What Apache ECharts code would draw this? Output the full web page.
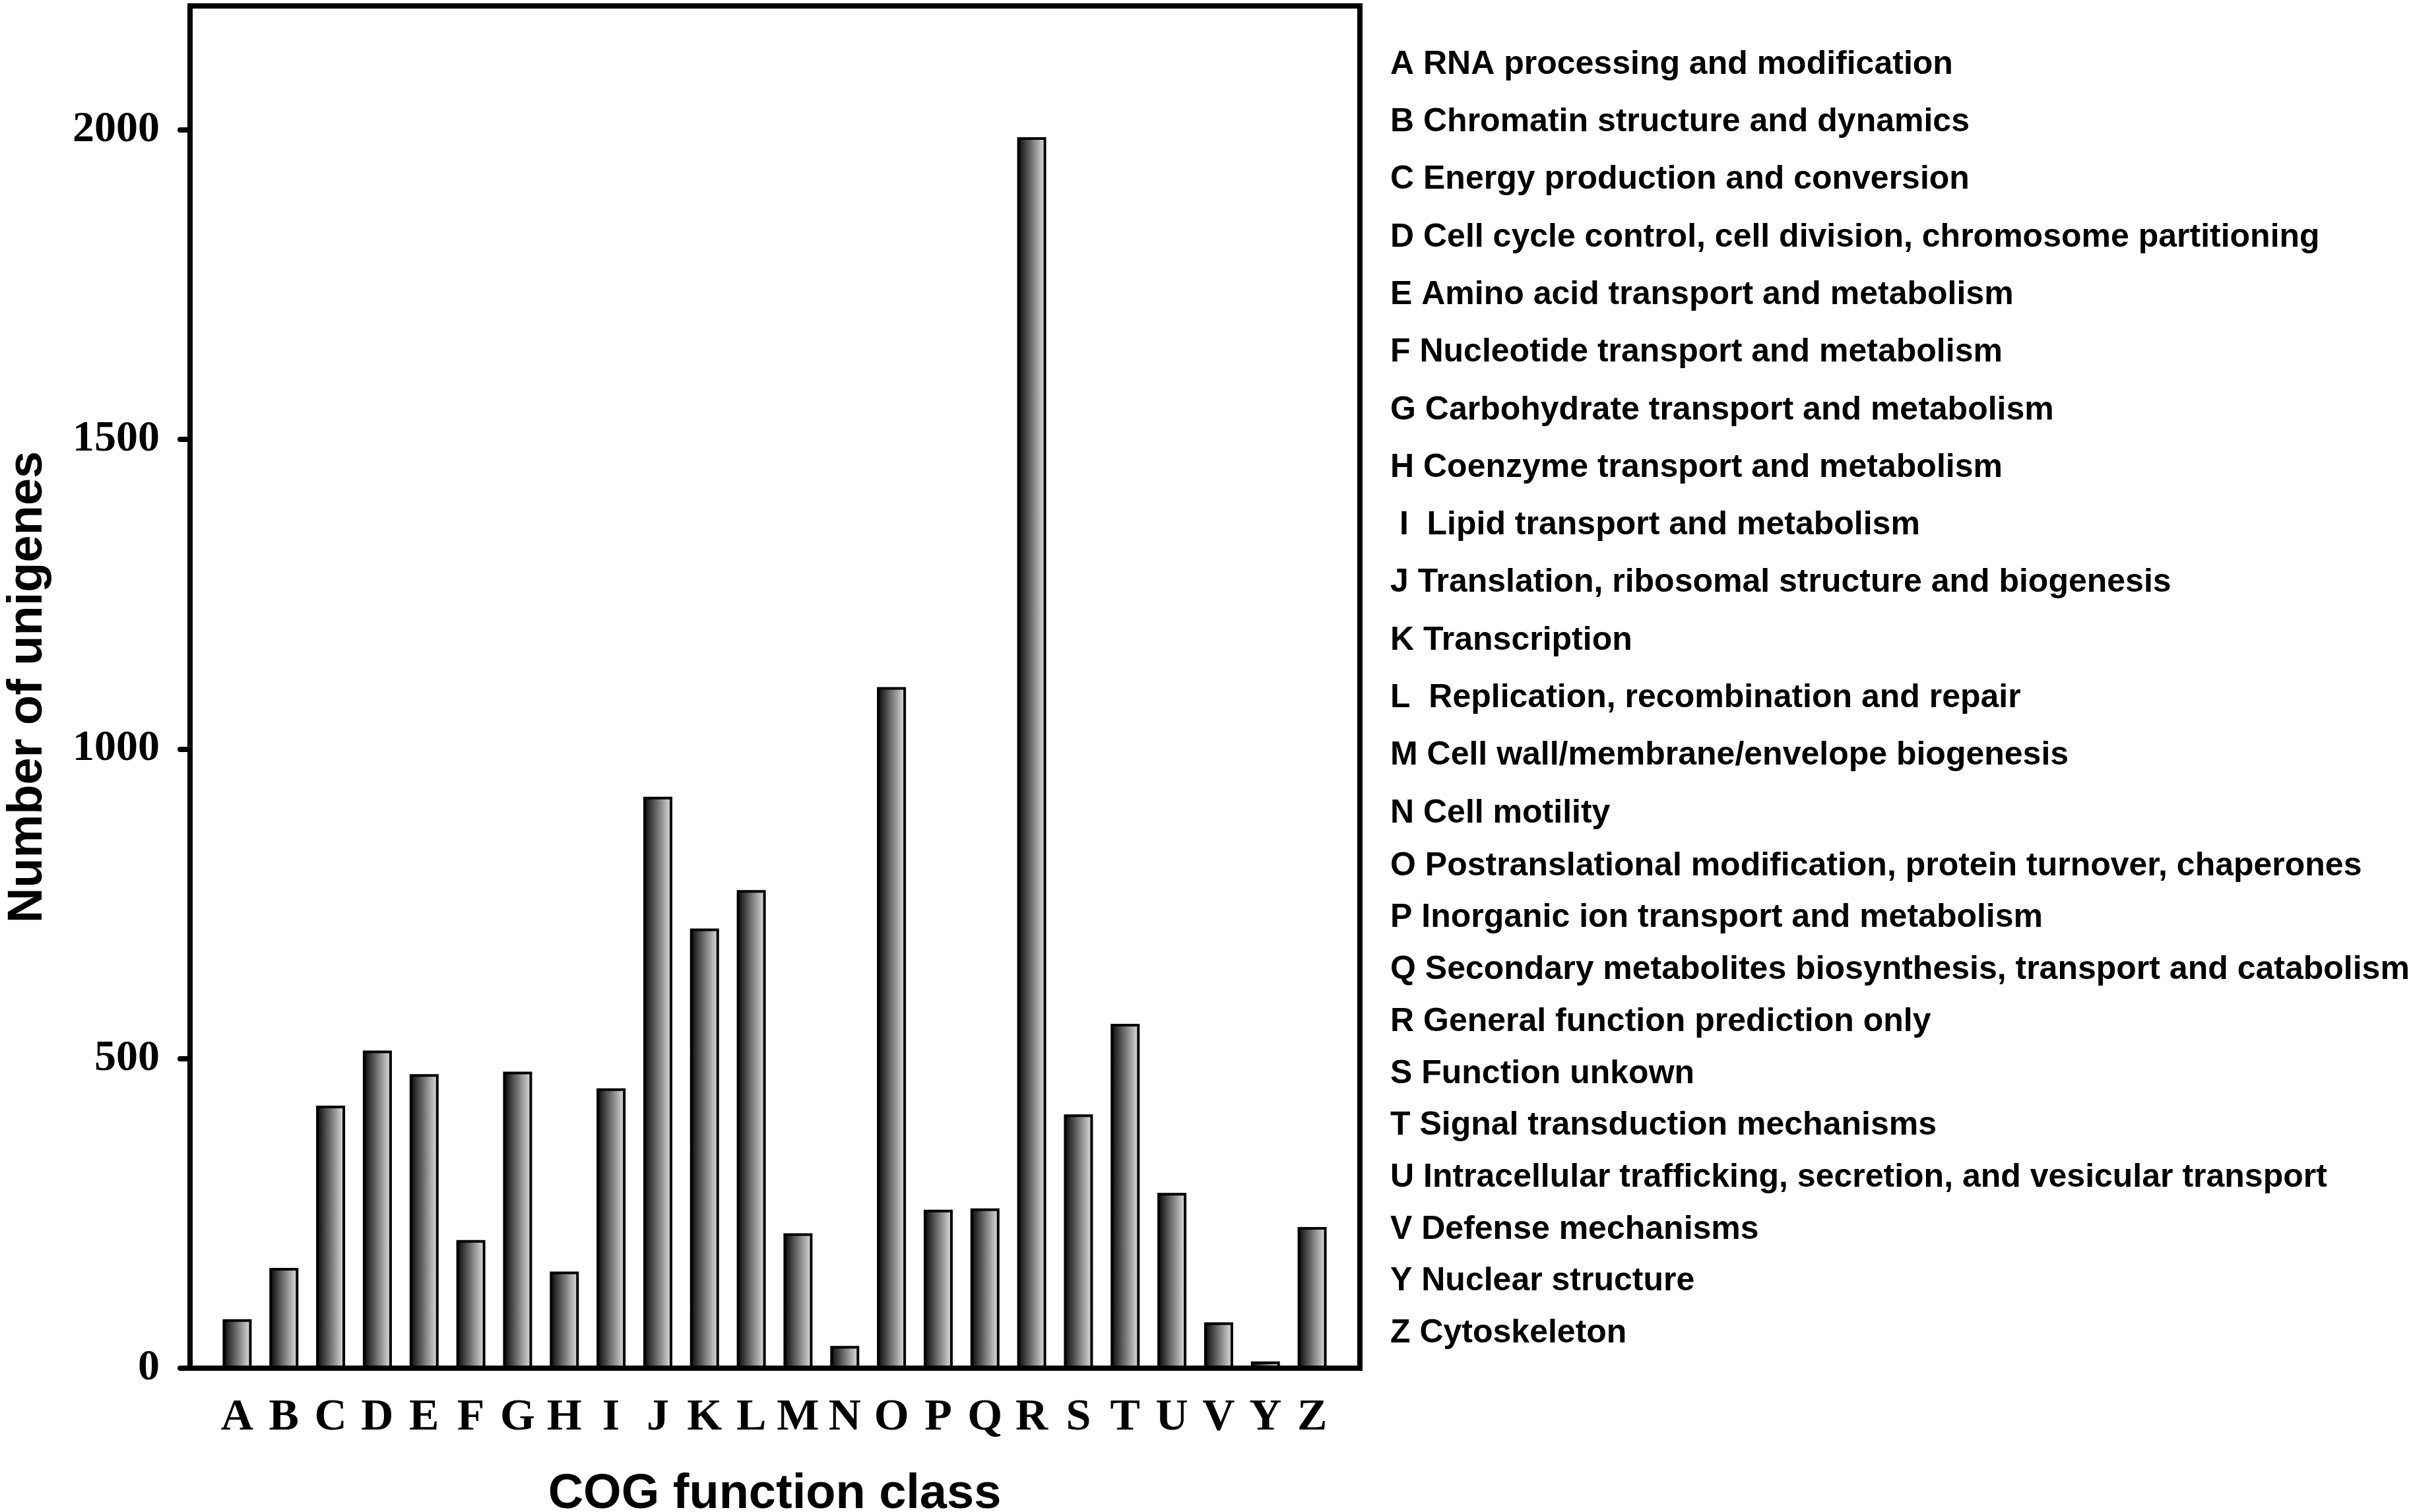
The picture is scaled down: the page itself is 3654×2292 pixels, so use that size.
<!DOCTYPE html>
<html>
<head>
<meta charset="utf-8">
<script src="https://cdn.jsdelivr.net/npm/echarts@6/dist/echarts.min.js"></script>
<style>
html,body{margin:0;padding:0;background:#fff;}
#chart{width:3654px;height:2292px;}
</style>
</head>
<body>
<div id="chart"></div>
<script>
const categories = ['A','B','C','D','E','F','G','H','I','J','K','L','M','N','O','P','Q','R','S','T','U','V','Y','Z'];
const counts = [79,162,424,513,475,207,479,156,452,923,710,772,218,36,1100,256,258,1988,410,556,283,74,11,228];
const yTicks = [0,500,1000,1500,2000];
const descriptions = [
  'A RNA processing and modification',
  'B Chromatin structure and dynamics',
  'C Energy production and conversion',
  'D Cell cycle control, cell division, chromosome partitioning',
  'E Amino acid transport and metabolism',
  'F Nucleotide transport and metabolism',
  'G Carbohydrate transport and metabolism',
  'H Coenzyme transport and metabolism',
  ' I  Lipid transport and metabolism',
  'J Translation, ribosomal structure and biogenesis',
  'K Transcription',
  'L  Replication, recombination and repair',
  'M Cell wall/membrane/envelope biogenesis',
  'N Cell motility',
  'O Postranslational modification, protein turnover, chaperones',
  'P Inorganic ion transport and metabolism',
  'Q Secondary metabolites biosynthesis, transport and catabolism',
  'R General function prediction only',
  'S Function unkown',
  'T Signal transduction mechanisms',
  'U Intracellular trafficking, secretion, and vesicular transport',
  'V Defense mechanisms',
  'Y Nuclear structure',
  'Z Cytoskeleton'
];

const chart = echarts.init(document.getElementById('chart'), null, {renderer: 'canvas'});

const serif = '"Liberation Serif", "Times New Roman", serif';
const sans = '"Liberation Sans", Arial, sans-serif';
const Y_MAX = 2200;

const frameLine = {show: true, onZero: false, lineStyle: {color: '#000', width: 8, cap: 'square'}};

const legendTexts = descriptions.map(function (t, i) {
  const y = i < 14 ? 102 + i * 87.3 : 1317 + (i - 14) * 78.7;
  return {
    type: 'text',
    left: 2107,
    top: y - 29,
    style: {text: t, fill: '#000', font: 'bold 50px ' + sans}
  };
});

chart.setOption({
  backgroundColor: '#fff',
  animation: false,
  graphic: legendTexts,
  grid: [
    {left: 288, top: 9, width: 1773, height: 2065, containLabel: false, outerBoundsMode: 'none'},
    {left: 324, top: 9, width: 1700, height: 2065, containLabel: false, outerBoundsMode: 'none'}
  ],
  xAxis: [
    {gridIndex: 0, type: 'value', min: 0, max: 1, position: 'bottom', z: 10,
     axisLine: frameLine, axisTick: {show: false}, axisLabel: {show: false}, splitLine: {show: false}},
    {gridIndex: 0, type: 'value', min: 0, max: 1, position: 'top', z: 10,
     axisLine: frameLine, axisTick: {show: false}, axisLabel: {show: false}, splitLine: {show: false}},
    {gridIndex: 1, type: 'category', data: categories, boundaryGap: true,
     axisLine: {show: false}, axisTick: {show: false},
     axisLabel: {interval: 0, margin: 41, color: '#000', fontFamily: serif, fontWeight: 'bold', fontSize: 68},
     name: 'COG function class', nameLocation: 'middle', nameGap: 155,
     nameTextStyle: {color: '#000', fontFamily: sans, fontWeight: 'bold', fontSize: 74}}
  ],
  yAxis: [
    {gridIndex: 0, type: 'value', min: 0, max: Y_MAX, position: 'left', z: 10,
     axisLine: frameLine,
     axisTick: {show: true, length: 15, customValues: yTicks, lineStyle: {color: '#000', width: 8, cap: 'round'}},
     axisLabel: {customValues: yTicks, formatter: function (v) { return String(v); },
                 margin: 46, color: '#000', fontFamily: serif, fontWeight: 'bold', fontSize: 66},
     splitLine: {show: false},
     name: 'Number of unigenes', nameLocation: 'middle', nameGap: 208, nameRotate: 90,
     nameTextStyle: {color: '#000', fontFamily: sans, fontWeight: 'bold', fontSize: 74}},
    {gridIndex: 0, type: 'value', min: 0, max: Y_MAX, position: 'right', z: 10,
     axisLine: frameLine, axisTick: {show: false}, axisLabel: {show: false}, splitLine: {show: false}},
    {gridIndex: 1, type: 'value', min: 0, max: Y_MAX, show: false, splitLine: {show: false}}
  ],
  series: [{
    type: 'bar',
    xAxisIndex: 2,
    yAxisIndex: 2,
    data: counts,
    barWidth: 44,
    itemStyle: {
      color: new echarts.graphic.LinearGradient(0, 0, 1, 0, [
        {offset: 0, color: '#000000'},
        {offset: 1, color: '#e8e8e8'}
      ]),
      borderColor: '#000',
      borderWidth: 4
    }
  }]
});
</script>
</body>
</html>
